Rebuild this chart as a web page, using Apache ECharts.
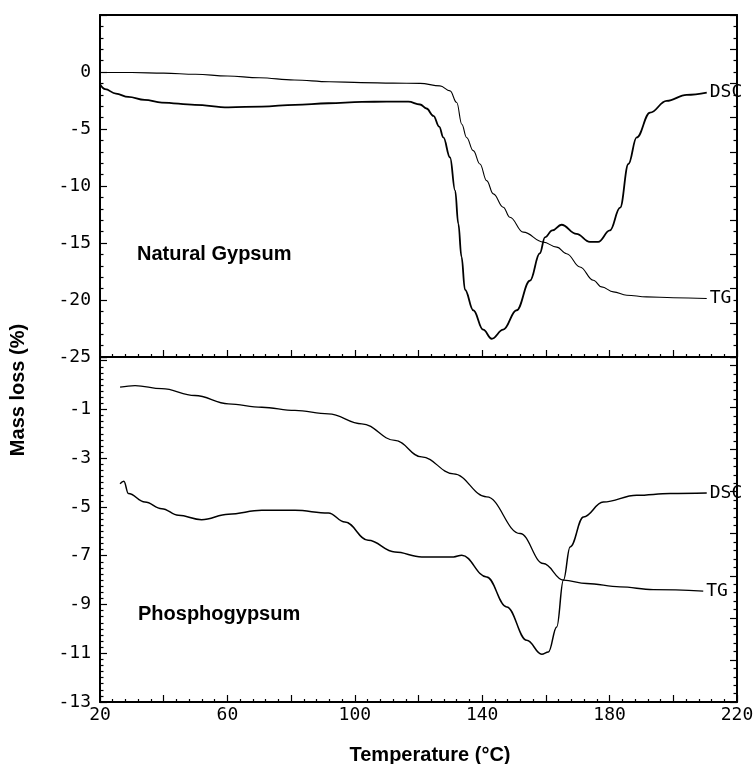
<!DOCTYPE html>
<html>
<head>
<meta charset="utf-8">
<script src="https://cdn.jsdelivr.net/npm/echarts@6/dist/echarts.min.js"></script>
<style>html,body{margin:0;padding:0;background:#fff}#c{width:753px;height:764px}</style>
</head>
<body>
<div id="c"></div>
<script>
// Natural Gypsum (top panel)
const natTG_T = [20, 30, 40, 50, 60, 70, 81, 92, 102, 112, 120.5, 126.75, 129.9, 132.0, 133.6, 135.1, 137.2, 139.3, 141.4, 143.5, 146.6, 148.7, 152.9, 159.2, 163.4, 166.5, 170.7, 174.9, 177.5, 181.2, 185.4, 191.6, 200, 210.5];
const natTG_V = [-0.05, -0.05, -0.1, -0.2, -0.35, -0.5, -0.7, -0.85, -0.93, -0.98, -1.0, -1.22, -1.66, -2.68, -4.58, -5.74, -6.9, -8.07, -9.53, -10.69, -11.86, -12.74, -14.05, -14.92, -15.36, -15.94, -17.1, -18.27, -18.85, -19.29, -19.58, -19.73, -19.8, -19.87];
const natDSC_T = [20, 21.6, 25, 28.9, 34, 39.4, 49.8, 60.3, 70.8, 81.2, 91.7, 102.2, 110, 116.8, 120.5, 122.5, 124.7, 126.5, 127.8, 129.9, 131.5, 132.5, 133.5, 134.6, 137.2, 140.3, 143, 146.6, 150.8, 155, 158.1, 159.7, 162, 164.9, 169.6, 173.8, 176.4, 180.1, 183.3, 185.9, 188.5, 192.7, 197.9, 204.2, 210.5];
const natDSC_V = [-1.08, -1.5, -1.9, -2.19, -2.45, -2.68, -2.88, -3.1, -3.03, -2.88, -2.74, -2.62, -2.6, -2.6, -2.85, -3.2, -3.85, -4.8, -5.74, -7.5, -10.4, -13.3, -16.2, -19.1, -20.9, -22.6, -23.4, -22.6, -20.9, -18.3, -15.9, -14.5, -13.9, -13.4, -14.2, -14.9, -14.9, -13.9, -11.9, -8.07, -5.74, -3.56, -2.53, -2.0, -1.8];
// Phosphogypsum (bottom panel)
const phTG_T = [26.3, 31, 39.4, 49.8, 60.3, 70.8, 81.2, 91.7, 102.2, 112.6, 121, 131, 141.4, 151.9, 159.2, 165.5, 172.8, 183.3, 193.7, 209.4];
const phTG_V = [-0.09, -0.02, -0.15, -0.43, -0.77, -0.91, -1.04, -1.18, -1.59, -2.27, -2.95, -3.64, -4.59, -6.09, -7.32, -8.0, -8.14, -8.28, -8.39, -8.45];
const phDSC_T = [26.3, 27.5, 28.9, 34.1, 39.4, 44.6, 51.9, 60.3, 70.8, 81.2, 91.7, 96.9, 104.2, 112.6, 121, 131, 133.6, 141.4, 147.7, 154, 158.7, 160.8, 163.4, 165.5, 167.6, 171.8, 178, 188.5, 199, 210.5];
const phDSC_V = [-4.05, -3.95, -4.45, -4.8, -5.07, -5.34, -5.52, -5.3, -5.14, -5.14, -5.25, -5.62, -6.37, -6.85, -7.05, -7.05, -6.98, -7.87, -9.1, -10.47, -11.04, -10.95, -9.92, -8.0, -6.64, -5.41, -4.8, -4.52, -4.45, -4.43];

const xTickLabels = [20, 60, 100, 140, 180, 220];
const topYLabels = [0, -5, -10, -15, -20, -25];
const botYLabels = [-1, -3, -5, -7, -9, -11, -13];
const panelNames = ['Natural Gypsum', 'Phosphogypsum'];
const curveNames = ['DSC', 'TG'];

const pairs = (t, v) => t.map((x, i) => [x, v[i]]);
const mono = 'DejaVu Sans Mono';
const axisLine = { show: true, onZero: false, lineStyle: { color: '#000', width: 2 } };

function xAx(gi, showLabels, pos) {
  return {
    type: 'value', gridIndex: gi, min: 20, max: 220, interval: 20, position: pos || 'bottom',
    axisLine: axisLine,
    axisTick: { show: true, inside: true, length: 7, lineStyle: { color: '#000', width: 1.2 } },
    minorTick: { show: true, splitNumber: 5, length: 3, lineStyle: { color: '#000', width: 1.2 } },
    splitLine: { show: false }, minorSplitLine: { show: false },
    axisLabel: showLabels ? {
      show: true, color: '#000', fontFamily: mono, fontSize: 18, margin: 4,
      formatter: v => xTickLabels.indexOf(v) >= 0 ? String(v) : ''
    } : { show: false }
  };
}
function yAx(gi, min, max, interval, minorSplit, labels, pos) {
  return {
    type: 'value', gridIndex: gi, min: min, max: max, interval: interval, position: pos || 'left',
    axisLine: axisLine,
    axisTick: { show: true, inside: true, length: 7, lineStyle: { color: '#000', width: 1.2 } },
    minorTick: { show: true, splitNumber: minorSplit, length: 3.5, lineStyle: { color: '#000', width: 1.2 } },
    splitLine: { show: false }, minorSplitLine: { show: false },
    axisLabel: labels ? {
      show: true, color: '#000', fontFamily: mono, fontSize: 18, margin: 9,
      formatter: v => labels.indexOf(v) >= 0 ? String(v) : ''
    } : { show: false }
  };
}
function line(name, xi, yi, data, width, label) {
  return {
    type: 'line', name: name, xAxisIndex: xi, yAxisIndex: yi, data: data,
    showSymbol: false, smooth: 0.4, smoothMonotone: 'x',
    lineStyle: { color: '#000', width: width },
    endLabel: { show: true, formatter: label, color: '#000', fontFamily: mono, fontSize: 18, distance: 3 },
    z: 5
  };
}

const chart = echarts.init(document.getElementById('c'), null, { renderer: 'canvas' });
chart.setOption({
  animation: false,
  backgroundColor: '#fff',
  grid: [
    { left: 100, right: 16, top: 15, height: 342, containLabel: false, outerBoundsMode: 'none' },
    { left: 100, right: 16, top: 357, height: 345, containLabel: false, outerBoundsMode: 'none' }
  ],
  xAxis: [
    xAx(0, false, 'bottom'),
    xAx(1, true, 'bottom'),
    Object.assign(xAx(0, false, 'top'), { minorTick: { show: false }, axisTick: { show: false } })
  ],
  yAxis: [
    yAx(0, -25, 5, 5, 5, topYLabels, 'left'),
    yAx(1, -13, 1.15, 2, 8, botYLabels, 'left'),
    yAx(0, -25, 5, 3, 3, null, 'right'),
    yAx(1, 0, 8.2, 1, 5, null, 'right')
  ],
  series: [
    line('nat-DSC', 0, 0, pairs(natDSC_T, natDSC_V), 1.8, curveNames[0]),
    line('nat-TG', 0, 0, pairs(natTG_T, natTG_V), 1.1, curveNames[1]),
    line('ph-DSC', 1, 1, pairs(phDSC_T, phDSC_V), 1.5, curveNames[0]),
    line('ph-TG', 1, 1, pairs(phTG_T, phTG_V), 1.3, curveNames[1])
  ],
  graphic: [
    { type: 'text', left: 137, top: 244, style: { text: panelNames[0], font: 'bold 20px "Liberation Sans", Arial, sans-serif', fill: '#000' } },
    { type: 'text', left: 138, top: 604, style: { text: panelNames[1], font: 'bold 20px "Liberation Sans", Arial, sans-serif', fill: '#000' } },
    { type: 'text', x: 18, y: 390, rotation: Math.PI / 2, style: { text: 'Mass loss (%)', font: 'bold 20px "Liberation Sans", Arial, sans-serif', fill: '#000', align: 'center', verticalAlign: 'middle' } },
    { type: 'text', x: 430, y: 755, style: { text: 'Temperature (°C)', font: 'bold 20px "Liberation Sans", Arial, sans-serif', fill: '#000', align: 'center', verticalAlign: 'middle' } }
  ]
});
</script>
</body>
</html>
